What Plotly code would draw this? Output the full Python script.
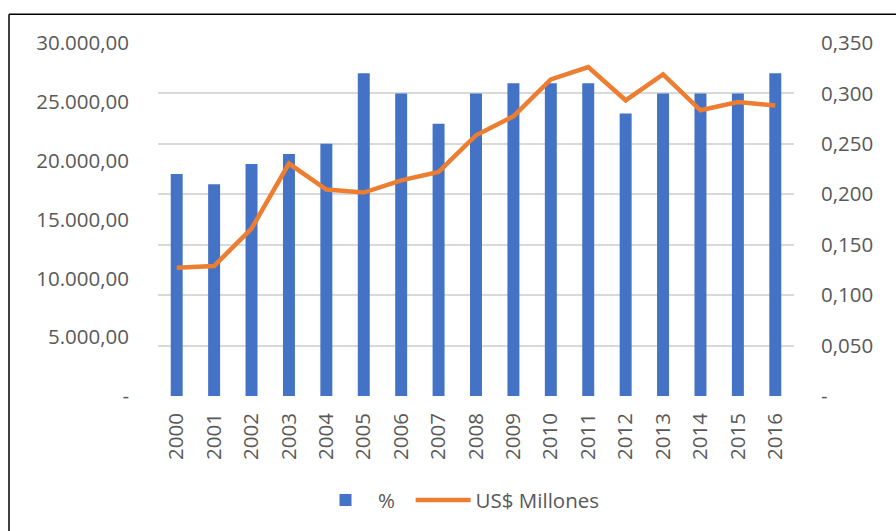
import plotly.graph_objects as go

years = [str(y) for y in range(2000, 2017)]
pct = [0.22, 0.21, 0.23, 0.24, 0.25, 0.32, 0.30, 0.27, 0.30, 0.31, 0.31, 0.31, 0.28, 0.30, 0.30, 0.30, 0.32]
usd = [10900, 11050, 14230, 19750, 17540, 17290, 18330, 19040, 22160, 23770, 26900, 27960, 25130, 27340, 24280, 24990, 24680]

left_vals = [0, 5000, 10000, 15000, 20000, 25000, 30000]
left_text = ["-", "5.000,00", "10.000,00", "15.000,00", "20.000,00", "25.000,00", "30.000,00"]
right_vals = [0, 0.05, 0.10, 0.15, 0.20, 0.25, 0.30, 0.35]
right_text = ["-", "0,050", "0,100", "0,150", "0,200", "0,250", "0,300", "0,350"]

FONT = "Open Sans"
GRAY = "#595959"
FS = 20.5

fig = go.Figure()
fig.add_trace(go.Bar(x=years, y=pct, name="%\u00a0\u00a0", marker=dict(color="#4472C4", line=dict(width=0)), yaxis="y"))
fig.add_trace(go.Scatter(x=years, y=usd, name="US$ Millones", mode="lines",
                         line=dict(color="#ED7D31", width=4.5), yaxis="y2"))

fig.update_layout(
    width=896, height=531,
    margin=dict(l=158, r=102, t=43, b=135, autoexpand=False),
    paper_bgcolor="white", plot_bgcolor="white",
    font=dict(family=FONT, size=FS, color=GRAY),
    bargap=0.68,
    showlegend=True,
    legend=dict(orientation="h", x=(313 - 158) / 636, xanchor="left", y=-0.295, yanchor="middle",
                font=dict(size=FS, color=GRAY), itemwidth=55, traceorder="normal"),
    xaxis=dict(type="category", tickangle=-90, showgrid=False, showline=False, ticks="",
               ticklabelstandoff=12, tickfont=dict(size=FS, color=GRAY)),
    yaxis=dict(side="right", range=[0, 0.35], tickvals=right_vals, ticktext=right_text,
               showgrid=True, gridcolor="#d9d9d9", gridwidth=1.5, zeroline=False,
               showline=False, ticks="", ticklabelstandoff=26, tickfont=dict(size=FS, color=GRAY)),
    yaxis2=dict(side="left", overlaying="y", range=[0, 30000], tickvals=left_vals, ticktext=left_text,
                showgrid=False, zeroline=False, showline=False, ticks="", ticklabelstandoff=28,
                tickfont=dict(size=FS, color=GRAY)),
    shapes=[
        dict(type="line", xref="paper", yref="paper", x0=(9 - 158) / 636, x1=(900 - 158) / 636,
             y0=(395.7 - 14) / 353, y1=(395.7 - 14) / 353, line=dict(color="black", width=1.5)),
        dict(type="line", xref="paper", yref="paper", x0=(9 - 158) / 636, x1=(9 - 158) / 636,
             y0=(395.7 - 14) / 353, y1=(395.7 - 545) / 353, line=dict(color="black", width=1.5)),
    ],
)

fig.write_html("out.html", config={"displayModeBar": False},
               post_script="document.body.style.margin='0';document.body.style.overflow='hidden';")
